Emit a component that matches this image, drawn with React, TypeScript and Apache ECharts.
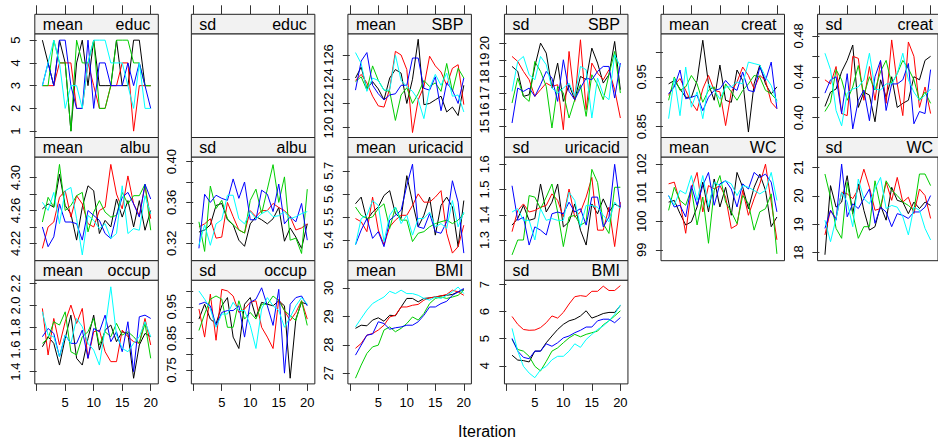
import React, { useEffect, useRef } from "react";
import * as echarts from "echarts";

const ITERATIONS = [1, 2, 3, 4, 5, 6, 7, 8, 9, 10, 11, 12, 13, 14, 15, 16, 17, 18, 19, 20];
const CHAIN_COLORS = ["#000000", "#FF0000", "#00CD00", "#0000FF", "#00FFFF"];
const X_TICKS = [0, 5, 10, 15, 20];
const X_LABELS = [5, 10, 15, 20];
const X_TITLE = "Iteration";

// each panel: five chains (black, red, green, blue, cyan), 20 iterations
const meanEduc = [
  [5, 4, 3, 5, 4, 1, 4, 5, 3, 5, 3, 3, 3, 5, 3, 3, 5, 5, 3, 3],
  [3, 3, 3, 4, 4, 4, 2, 2, 4, 3, 2, 2, 3, 3, 4, 4, 1, 3, 3, 3],
  [3, 3, 5, 4, 4, 1, 5, 4, 4, 5, 2, 2, 3, 5, 5, 5, 4, 4, 3, 3],
  [3, 4, 3, 5, 5, 3, 2, 2, 5, 2, 4, 4, 3, 3, 3, 4, 3, 4, 3, 2],
  [3, 4, 5, 4, 2, 3, 3, 2, 4, 5, 5, 5, 4, 4, 4, 3, 2, 4, 2, 2],
];
const sdEduc: number[][] = [];
const meanSBP = [
  [124.1, 125.0, 123.2, 123.8, 123.2, 122.3, 124.1, 124.8, 124.5, 122.0, 124.0, 127.3, 121.9, 122.0, 122.3, 122.6, 121.3, 121.7, 121.0, 123.5],
  [123.9, 124.4, 123.7, 122.6, 121.8, 121.7, 123.2, 126.3, 126.0, 124.8, 119.6, 122.3, 123.4, 125.9, 125.1, 124.6, 123.5, 124.9, 125.2, 121.9],
  [123.8, 124.2, 123.1, 125.1, 123.9, 123.1, 123.0, 120.6, 122.7, 123.3, 122.0, 122.8, 123.9, 123.4, 123.7, 123.0, 125.3, 123.0, 124.9, 124.1],
  [123.1, 125.5, 126.2, 123.5, 122.8, 122.3, 122.7, 122.8, 123.5, 123.5, 125.75, 125.75, 123.25, 123.1, 124.2, 121.4, 123.7, 123.1, 122.0, 124.1],
  [126.2, 125.3, 123.0, 124.1, 123.9, 123.1, 123.1, 126.0, 123.9, 123.4, 123.0, 122.3, 120.75, 123.25, 124.4, 123.5, 124.5, 122.6, 122.7, 121.3],
];
const sdSBP = [
  [18.6, 18.3, 16.8, 16.9, 18.6, 20.0, 19.4, 17.3, 18.8, 16.5, 17.5, 16.6, 18.0, 17.8, 19.7, 18.8, 17.6, 18.1, 20.1, 17.2],
  [19.2, 18.9, 18.3, 17.8, 16.8, 17.2, 17.6, 17.4, 17.5, 14.8, 19.5, 16.5, 20.2, 16.0, 18.8, 18.2, 17.8, 18.4, 17.2, 15.5],
  [16.4, 17.9, 16.8, 16.5, 18.9, 18.3, 17.4, 14.9, 17.4, 17.0, 15.5, 16.6, 17.5, 15.6, 18.1, 17.5, 16.6, 18.1, 19.5, 17.0],
  [15.2, 17.3, 17.1, 17.3, 16.8, 17.5, 18.3, 17.9, 16.5, 19.0, 17.1, 16.6, 17.3, 17.9, 17.8, 18.3, 18.6, 18.6, 16.7, 18.8],
  [17.1, 18.9, 19.2, 18.1, 17.8, 19.2, 18.7, 17.3, 17.0, 17.3, 17.6, 16.8, 18.6, 18.4, 15.5, 17.9, 16.9, 16.6, 19.3, 18.6],
];
const meanCreat = [
  [0.936, 0.943, 0.926, 0.909, 0.909, 0.943, 1.024, 0.936, 0.903, 0.974, 0.903, 0.899, 0.964, 0.943, 0.839, 0.936, 0.974, 0.936, 0.916, 0.930],
  [0.913, 0.933, 0.947, 0.923, 0.899, 0.882, 0.926, 0.953, 0.923, 0.920, 0.852, 0.920, 0.940, 0.970, 0.953, 0.926, 0.953, 0.943, 0.899, 0.886],
  [0.903, 0.950, 0.923, 0.930, 0.953, 0.936, 0.899, 0.923, 0.930, 0.889, 0.936, 0.920, 0.903, 0.923, 0.936, 0.953, 0.950, 0.923, 0.916, 0.903],
  [0.916, 0.930, 0.964, 0.906, 0.909, 0.913, 0.882, 0.909, 0.923, 0.926, 0.943, 0.930, 0.923, 0.960, 0.923, 0.920, 0.970, 0.943, 0.980, 0.886],
  [0.866, 0.947, 0.872, 0.970, 0.889, 0.920, 0.866, 0.936, 0.923, 0.906, 0.930, 0.930, 0.940, 0.936, 0.980, 0.977, 0.974, 0.950, 0.933, 0.899],
];
const sdCreat = [
  [0.411, 0.425, 0.428, 0.445, 0.456, 0.471, 0.410, 0.425, 0.422, 0.396, 0.437, 0.420, 0.440, 0.410, 0.414, 0.417, 0.440, 0.437, 0.456, 0.460],
  [0.437, 0.433, 0.450, 0.404, 0.402, 0.460, 0.458, 0.417, 0.450, 0.417, 0.455, 0.414, 0.476, 0.433, 0.402, 0.474, 0.460, 0.410, 0.430, 0.404],
  [0.406, 0.415, 0.447, 0.437, 0.417, 0.430, 0.451, 0.422, 0.440, 0.427, 0.445, 0.456, 0.433, 0.443, 0.456, 0.448, 0.437, 0.417, 0.425, 0.414],
  [0.424, 0.437, 0.440, 0.404, 0.443, 0.389, 0.417, 0.427, 0.397, 0.440, 0.456, 0.407, 0.433, 0.433, 0.437, 0.453, 0.394, 0.406, 0.404, 0.447],
  [0.463, 0.447, 0.407, 0.392, 0.424, 0.428, 0.430, 0.437, 0.463, 0.428, 0.427, 0.433, 0.433, 0.443, 0.463, 0.437, 0.425, 0.417, 0.422, 0.428],
];
const meanAlbu = [
  [4.262, 4.268, 4.264, 4.304, 4.266, 4.256, 4.224, 4.264, 4.290, 4.284, 4.232, 4.248, 4.240, 4.274, 4.252, 4.272, 4.240, 4.272, 4.236, 4.260],
  [4.214, 4.240, 4.246, 4.276, 4.284, 4.252, 4.278, 4.268, 4.244, 4.240, 4.260, 4.264, 4.316, 4.280, 4.262, 4.302, 4.268, 4.254, 4.290, 4.250],
  [4.246, 4.276, 4.264, 4.316, 4.260, 4.266, 4.278, 4.282, 4.234, 4.258, 4.272, 4.258, 4.252, 4.254, 4.282, 4.268, 4.278, 4.278, 4.292, 4.236],
  [4.240, 4.216, 4.228, 4.268, 4.246, 4.246, 4.244, 4.224, 4.260, 4.254, 4.248, 4.232, 4.226, 4.254, 4.276, 4.282, 4.268, 4.252, 4.292, 4.274],
  [4.270, 4.260, 4.282, 4.244, 4.284, 4.288, 4.250, 4.206, 4.254, 4.248, 4.238, 4.244, 4.226, 4.232, 4.290, 4.232, 4.238, 4.236, 4.278, 4.256],
];
const sdAlbu = [
  [0.331, 0.333, 0.338, 0.357, 0.359, 0.343, 0.338, 0.323, 0.317, 0.339, 0.346, 0.343, 0.339, 0.344, 0.355, 0.322, 0.335, 0.326, 0.315, 0.339],
  [0.336, 0.339, 0.344, 0.325, 0.326, 0.360, 0.346, 0.333, 0.330, 0.352, 0.346, 0.352, 0.352, 0.359, 0.355, 0.352, 0.346, 0.333, 0.335, 0.339],
  [0.341, 0.312, 0.376, 0.354, 0.362, 0.344, 0.338, 0.333, 0.330, 0.362, 0.373, 0.349, 0.373, 0.397, 0.360, 0.385, 0.323, 0.325, 0.310, 0.373],
  [0.315, 0.368, 0.360, 0.367, 0.364, 0.362, 0.383, 0.364, 0.380, 0.343, 0.343, 0.372, 0.368, 0.351, 0.378, 0.339, 0.346, 0.341, 0.359, 0.323],
  [0.318, 0.338, 0.318, 0.339, 0.343, 0.367, 0.367, 0.344, 0.339, 0.351, 0.344, 0.349, 0.352, 0.346, 0.347, 0.351, 0.344, 0.346, 0.349, 0.351],
];
const meanUricacid = [
  [5.557, 5.586, 5.486, 5.521, 5.543, 5.593, 5.614, 5.514, 5.493, 5.679, 5.564, 5.457, 5.507, 5.586, 5.421, 5.550, 5.586, 5.543, 5.371, 5.571],
  [5.493, 5.479, 5.436, 5.586, 5.443, 5.379, 5.457, 5.486, 5.507, 5.507, 5.550, 5.600, 5.564, 5.564, 5.586, 5.614, 5.429, 5.343, 5.371, 5.464],
  [5.543, 5.507, 5.493, 5.500, 5.536, 5.557, 5.450, 5.543, 5.486, 5.486, 5.393, 5.429, 5.436, 5.457, 5.471, 5.479, 5.486, 5.471, 5.486, 5.514],
  [5.379, 5.443, 5.493, 5.407, 5.436, 5.371, 5.486, 5.507, 5.529, 5.636, 5.729, 5.457, 5.450, 5.514, 5.436, 5.429, 5.479, 5.657, 5.564, 5.343],
  [5.379, 5.493, 5.507, 5.571, 5.550, 5.393, 5.507, 5.543, 5.471, 5.507, 5.421, 5.493, 5.493, 5.521, 5.457, 5.471, 5.450, 5.571, 5.457, 5.521],
];
const sdUricacid = [
  [1.359, 1.385, 1.437, 1.378, 1.385, 1.522, 1.411, 1.450, 1.522, 1.352, 1.372, 1.443, 1.339, 1.280, 1.443, 1.404, 1.463, 1.411, 1.443, 1.430],
  [1.333, 1.417, 1.443, 1.411, 1.417, 1.430, 1.437, 1.483, 1.457, 1.391, 1.502, 1.391, 1.411, 1.470, 1.548, 1.339, 1.339, 1.430, 1.274, 1.450],
  [1.241, 1.300, 1.300, 1.476, 1.470, 1.424, 1.470, 1.522, 1.411, 1.274, 1.391, 1.398, 1.359, 1.372, 1.580, 1.528, 1.365, 1.326, 1.509, 1.509],
  [1.515, 1.378, 1.391, 1.280, 1.352, 1.339, 1.320, 1.404, 1.411, 1.404, 1.450, 1.411, 1.424, 1.359, 1.470, 1.470, 1.352, 1.391, 1.600, 1.430],
  [1.411, 1.424, 1.378, 1.378, 1.300, 1.424, 1.378, 1.385, 1.378, 1.378, 1.489, 1.457, 1.352, 1.437, 1.437, 1.430, 1.398, 1.372, 1.450, 1.424],
];
const meanWC = [
  [100.67, 100.73, 100.27, 99.87, 99.98, 100.5, 101.37, 100.33, 101.48, 100.5, 101.19, 100.21, 101.71, 101.19, 100.44, 101.19, 101.65, 101.08, 99.81, 100.15],
  [101.31, 101.37, 100.67, 99.58, 101.13, 101.71, 100.33, 101.25, 101.13, 101.25, 100.85, 99.75, 99.87, 101.08, 100.21, 100.79, 101.31, 102.0, 100.67, 99.35],
  [100.38, 101.19, 100.73, 100.56, 101.13, 99.87, 100.85, 99.23, 101.08, 101.6, 100.67, 100.33, 99.92, 100.9, 100.62, 99.69, 100.33, 100.44, 100.96, 98.86],
  [100.9, 100.5, 100.56, 100.15, 101.25, 100.56, 101.25, 101.71, 100.56, 101.31, 101.42, 101.13, 100.5, 101.31, 101.13, 101.71, 101.54, 101.65, 101.37, 100.33],
  [100.9, 100.56, 101.08, 100.96, 101.6, 100.73, 101.6, 100.5, 101.37, 101.25, 101.42, 101.31, 100.9, 101.25, 101.19, 101.08, 100.96, 101.08, 101.71, 100.73],
];
const sdWC = [
  [17.92, 20.36, 19.6, 19.78, 20.71, 19.37, 20.42, 19.49, 18.79, 18.91, 19.66, 19.14, 20.3, 19.84, 19.78, 19.37, 19.78, 19.55, 19.78, 19.66],
  [18.62, 19.49, 19.2, 20.13, 20.07, 19.9, 20.24, 20.94, 20.3, 19.49, 19.55, 20.48, 19.84, 20.65, 19.78, 19.95, 19.37, 20.24, 20.01, 19.2],
  [20.77, 19.95, 18.85, 18.5, 20.48, 19.37, 18.5, 18.91, 18.91, 20.53, 19.6, 20.53, 20.19, 20.01, 19.78, 19.66, 19.49, 20.77, 20.77, 20.36],
  [18.85, 19.49, 19.14, 21.12, 19.26, 19.72, 19.55, 19.9, 20.24, 19.03, 19.6, 19.43, 18.91, 19.37, 19.31, 19.2, 19.43, 19.43, 19.6, 20.01],
  [19.14, 18.38, 19.2, 20.13, 19.78, 18.91, 20.59, 19.9, 19.72, 20.24, 20.65, 19.55, 19.66, 19.6, 19.26, 18.62, 19.6, 19.49, 18.85, 18.44],
];
const meanOccup = [
  [1.626, 1.717, 1.657, 1.46, 1.702, 1.913, 1.521, 1.46, 1.702, 1.913, 1.596, 1.777, 1.823, 1.672, 1.762, 1.747, 1.34, 1.642, 1.747, 1.717],
  [1.974, 1.551, 1.883, 1.642, 1.853, 2.004, 1.838, 1.974, 1.521, 1.762, 1.777, 1.581, 1.491, 1.491, 1.777, 1.717, 1.672, 1.657, 1.883, 1.642],
  [1.657, 1.702, 1.853, 1.823, 1.943, 1.581, 1.551, 1.717, 1.762, 1.883, 1.642, 1.762, 1.717, 1.838, 1.732, 1.762, 1.717, 1.657, 1.838, 1.521],
  [1.717, 1.792, 1.747, 1.536, 1.732, 1.657, 1.657, 1.777, 1.521, 1.792, 1.762, 1.913, 1.672, 1.762, 1.581, 1.853, 1.4, 1.898, 1.913, 1.883],
  [1.943, 1.732, 1.717, 1.536, 1.732, 1.657, 1.883, 1.808, 1.657, 1.596, 1.46, 1.792, 2.17, 1.732, 1.611, 1.581, 1.657, 1.717, 1.853, 1.717],
];
const sdOccup = [
  [0.911, 0.958, 0.911, 0.896, 0.953, 0.979, 0.854, 0.818, 0.958, 0.979, 0.917, 0.964, 0.958, 0.953, 0.969, 0.953, 0.724, 0.911, 0.964, 0.958],
  [0.943, 0.854, 0.990, 0.844, 1.005, 1.000, 0.984, 0.932, 0.943, 0.964, 0.969, 0.885, 0.854, 0.818, 0.974, 0.938, 0.906, 0.932, 0.969, 0.911],
  [0.875, 0.927, 0.974, 0.984, 0.974, 0.885, 0.885, 0.969, 0.911, 0.932, 0.911, 0.958, 0.958, 0.984, 0.969, 0.938, 0.922, 0.906, 0.969, 0.891],
  [0.958, 0.964, 0.953, 0.891, 0.932, 0.938, 0.938, 0.953, 0.854, 0.964, 0.974, 1.010, 0.953, 0.891, 1.005, 0.740, 0.958, 0.979, 0.984, 0.953],
  [1.000, 0.974, 0.943, 0.885, 0.927, 0.927, 0.964, 0.938, 0.938, 0.891, 0.818, 0.943, 0.979, 0.953, 0.938, 0.885, 0.917, 0.953, 0.979, 0.958],
];
const meanBMI = [
  [28.58, 28.69, 28.67, 28.87, 28.95, 28.83, 29.04, 29.02, 29.33, 29.63, 29.63, 29.51, 29.63, 29.65, 29.68, 29.72, 29.74, 29.77, 29.86, 29.94],
  [27.88, 28.05, 28.34, 28.4, 28.52, 28.69, 28.98, 29.04, 29.33, 29.33, 29.39, 29.42, 29.57, 29.65, 29.68, 29.72, 29.77, 29.92, 29.86, 29.74],
  [26.83, 27.29, 27.7, 27.93, 27.99, 28.52, 28.63, 28.46, 28.58, 28.75, 28.98, 28.87, 29.1, 29.45, 29.63, 29.68, 29.63, 29.68, 29.74, 29.92],
  [27.64, 27.99, 28.34, 28.38, 28.81, 28.75, 28.55, 28.6, 28.63, 28.69, 28.69, 28.81, 29.04, 29.33, 29.33, 29.45, 29.53, 29.74, 29.86, 29.98],
  [28.63, 28.93, 29.22, 29.45, 29.57, 29.68, 29.88, 29.8, 29.92, 29.8, 29.8, 29.74, 29.63, 29.57, 29.68, 29.63, 29.74, 29.86, 30.03, 29.8],
];
const sdBMI = [
  [4.39, 4.21, 4.19, 4.14, 4.54, 4.54, 4.85, 5.1, 5.34, 5.53, 5.66, 5.72, 5.84, 6.03, 5.76, 5.84, 5.93, 5.97, 5.97, 6.22],
  [5.82, 5.53, 5.34, 5.31, 5.32, 5.41, 5.59, 5.84, 5.76, 5.97, 6.28, 6.55, 6.59, 6.56, 6.75, 6.75, 6.94, 6.78, 6.78, 6.96],
  [4.97, 4.6, 4.54, 4.35, 3.98, 3.81, 4.16, 4.54, 4.66, 4.85, 5.03, 5.16, 5.07, 5.16, 5.22, 5.28, 5.51, 5.66, 5.84, 6.03],
  [5.01, 4.54, 4.31, 4.26, 4.54, 4.54, 4.81, 4.72, 4.85, 5.03, 5.1, 5.22, 5.31, 5.43, 5.43, 5.66, 5.72, 5.72, 5.59, 5.78],
  [5.38, 4.54, 3.98, 3.73, 3.56, 3.85, 3.98, 4.22, 4.35, 4.35, 4.54, 4.81, 4.68, 4.97, 5.16, 5.34, 5.47, 5.66, 5.9, 6.25],
];

// tick values per panel
const TICKS_EDUC = [1, 2, 3, 4, 5];
const TICKS_SBP_MEAN = [120, 122, 124, 126];
const TICKS_SBP_SD = [15, 16, 17, 18, 19, 20];
const TICKS_CREAT_MEAN = [0.85, 0.9, 0.95, 1.0];
const LABELS_CREAT_MEAN = [0.85, 0.95];
const TICKS_CREAT_SD = [0.4, 0.42, 0.44, 0.46, 0.48];
const LABELS_CREAT_SD = [0.4, 0.44, 0.48];
const TICKS_ALBU_MEAN = [4.22, 4.24, 4.26, 4.28, 4.3];
const LABELS_ALBU_MEAN = [4.22, 4.26, 4.3];
const TICKS_ALBU_SD = [0.32, 0.34, 0.36, 0.38, 0.4];
const LABELS_ALBU_SD = [0.32, 0.36, 0.4];
const TICKS_URIC_MEAN = [5.4, 5.5, 5.6, 5.7];
const TICKS_URIC_SD = [1.3, 1.4, 1.5, 1.6];
const TICKS_WC_MEAN = [99, 100, 101, 102];
const TICKS_WC_SD = [18, 19, 20, 21];
const TICKS_OCCUP_MEAN = [1.4, 1.6, 1.8, 2.0, 2.2];
const TICKS_OCCUP_SD = [0.75, 0.8, 0.85, 0.9, 0.95, 1.0];
const LABELS_OCCUP_SD = [0.75, 0.85, 0.95];
const TICKS_BMI_MEAN = [27, 28, 29, 30];
const TICKS_BMI_SD = [4, 5, 6, 7];

type Panel = {
  stat: string;
  name: string;
  data: number[][];
  range: [number, number];
  ticks: number[];
  labels: number[];
  digits: number;
};

const PANELS: Panel[] = [
  { stat: "mean", name: "educ", data: meanEduc, range: [0.72, 5.28], ticks: TICKS_EDUC, labels: TICKS_EDUC, digits: 0 },
  { stat: "sd", name: "educ", data: sdEduc, range: [0, 1], ticks: [], labels: [], digits: 0 },
  { stat: "mean", name: "SBP", data: meanSBP, range: [119.19, 127.75], ticks: TICKS_SBP_MEAN, labels: TICKS_SBP_MEAN, digits: 0 },
  { stat: "sd", name: "SBP", data: sdSBP, range: [14.33, 20.56], ticks: TICKS_SBP_SD, labels: TICKS_SBP_SD, digits: 0 },
  { stat: "mean", name: "creat", data: meanCreat, range: [0.828, 1.037], ticks: TICKS_CREAT_MEAN, labels: LABELS_CREAT_MEAN, digits: 2 },
  { stat: "sd", name: "creat", data: sdCreat, range: [0.3806, 0.482], ticks: TICKS_CREAT_SD, labels: LABELS_CREAT_SD, digits: 2 },
  { stat: "mean", name: "albu", data: meanAlbu, range: [4.199, 4.325], ticks: TICKS_ALBU_MEAN, labels: LABELS_ALBU_MEAN, digits: 2 },
  { stat: "sd", name: "albu", data: sdAlbu, range: [0.3029, 0.4045], ticks: TICKS_ALBU_SD, labels: LABELS_ALBU_SD, digits: 2 },
  { stat: "mean", name: "uricacid", data: meanUricacid, range: [5.31, 5.76], ticks: TICKS_URIC_MEAN, labels: TICKS_URIC_MEAN, digits: 1 },
  { stat: "sd", name: "uricacid", data: sdUricacid, range: [1.218, 1.629], ticks: TICKS_URIC_SD, labels: TICKS_URIC_SD, digits: 1 },
  { stat: "mean", name: "WC", data: meanWC, range: [98.62, 102.25], ticks: TICKS_WC_MEAN, labels: TICKS_WC_MEAN, digits: 0 },
  { stat: "sd", name: "WC", data: sdWC, range: [17.71, 21.37], ticks: TICKS_WC_SD, labels: TICKS_WC_SD, digits: 0 },
  { stat: "mean", name: "occup", data: meanOccup, range: [1.289, 2.23], ticks: TICKS_OCCUP_MEAN, labels: TICKS_OCCUP_MEAN, digits: 1 },
  { stat: "sd", name: "occup", data: sdOccup, range: [0.706, 1.034], ticks: TICKS_OCCUP_SD, labels: LABELS_OCCUP_SD, digits: 2 },
  { stat: "mean", name: "BMI", data: meanBMI, range: [26.63, 30.27], ticks: TICKS_BMI_MEAN, labels: TICKS_BMI_MEAN, digits: 0 },
  { stat: "sd", name: "BMI", data: sdBMI, range: [3.33, 7.16], ticks: TICKS_BMI_SD, labels: TICKS_BMI_SD, digits: 0 },
];

// layout
const FONT = "'Liberation Sans', Arial, Helvetica, sans-serif";
const COLS = 6;
const COL_LEFT0 = 34.8;
const COL_STEP = 156.55;
const PANEL_W = 123.5;
const ROW_TOP0 = 14.3;
const ROW_STEP = 123.2;
const STRIP_H = 19.5;
const FRAME = "#222222";
const TICK_COLOR = "#333333";
const STRIP_FILL = "#F2F2F2";
const X_MIN = -0.33;
const X_MAX = 21.33;

function buildOption() {
  const grid: any[] = [];
  const xAxis: any[] = [];
  const yAxis: any[] = [];
  const series: any[] = [];
  const graphic: any[] = [];
  const topAxes: any[] = [];

  PANELS.forEach((p, i) => {
    const row = Math.floor(i / COLS);
    const col = i % COLS;
    const left = COL_LEFT0 + col * COL_STEP;
    const top = ROW_TOP0 + row * ROW_STEP;
    const isBottom = row === 2;
    const hasData = p.data.length > 0;

    grid.push({
      left,
      top: top + STRIP_H,
      width: PANEL_W,
      height: ROW_STEP - STRIP_H,
      show: true,
      borderColor: FRAME,
      borderWidth: 1,
      backgroundColor: "transparent",
      containLabel: false,
    });

    xAxis.push({
      gridIndex: i,
      type: "value",
      min: X_MIN,
      max: X_MAX,
      position: "bottom",
      show: isBottom,
      axisLine: { show: false },
      axisTick: { show: true, customValues: X_TICKS, length: 7, lineStyle: { color: TICK_COLOR, width: 1 } },
      axisLabel: { show: true, customValues: X_LABELS, fontSize: 13, color: "#000", margin: 12, fontFamily: FONT },
      splitLine: { show: false },
    });

    if (row === 0) {
      topAxes.push({
        gridIndex: i,
        type: "value",
        min: X_MIN,
        max: X_MAX,
        position: "top",
        offset: STRIP_H,
        show: true,
        axisLine: { show: false },
        axisTick: { show: true, customValues: X_TICKS, length: 9, lineStyle: { color: TICK_COLOR, width: 1 } },
        axisLabel: { show: false },
        splitLine: { show: false },
      });
    }

    yAxis.push({
      gridIndex: i,
      type: "value",
      min: p.range[0],
      max: p.range[1],
      show: hasData,
      axisLine: { show: false },
      axisTick: { show: true, customValues: p.ticks, length: 7, lineStyle: { color: TICK_COLOR, width: 1 } },
      axisLabel: {
        show: true,
        customValues: p.labels,
        rotate: 90,
        fontSize: 13,
        color: "#000",
        margin: 13,
        fontFamily: FONT,
        formatter: (v: number) => Number(v).toFixed(p.digits),
      },
      splitLine: { show: false },
    });

    p.data.forEach((chain, k) => {
      series.push({
        type: "line",
        name: `${p.stat} ${p.name} ${k + 1}`,
        xAxisIndex: i,
        yAxisIndex: i,
        data: ITERATIONS.map((it, j) => [it, chain[j]]),
        showSymbol: false,
        symbol: "none",
        silent: true,
        lineStyle: { width: 1, color: CHAIN_COLORS[k] },
        itemStyle: { color: CHAIN_COLORS[k] },
        z: 2 + k,
      });
    });

    graphic.push({
      type: "rect",
      shape: { x: left, y: top, width: PANEL_W, height: STRIP_H },
      style: { fill: STRIP_FILL, stroke: FRAME, lineWidth: 1 },
      silent: true,
      z: 1,
    });
    graphic.push({
      type: "text",
      x: left + 8,
      y: top + STRIP_H / 2 + 0.5,
      style: {
        text: p.stat,
        fontSize: 16,
        fontFamily: FONT,
        fill: "#000",
        textAlign: "left",
        textVerticalAlign: "middle",
        align: "left",
        verticalAlign: "middle",
      },
      silent: true,
      z: 2,
    });
    graphic.push({
      type: "text",
      x: left + PANEL_W - 8,
      y: top + STRIP_H / 2 + 0.5,
      style: {
        text: p.name,
        fontSize: 16,
        fontFamily: FONT,
        fill: "#000",
        textAlign: "right",
        textVerticalAlign: "middle",
        align: "right",
        verticalAlign: "middle",
      },
      silent: true,
      z: 2,
    });
  });

  graphic.push({
    type: "text",
    x: 487,
    y: 431,
    style: {
      text: X_TITLE,
      fontSize: 16,
      fontFamily: FONT,
      fill: "#000",
      textAlign: "center",
      textVerticalAlign: "middle",
      align: "center",
      verticalAlign: "middle",
    },
    silent: true,
  });

  return {
    animation: false,
    backgroundColor: "#ffffff",
    textStyle: { fontFamily: FONT },
    grid,
    xAxis: [...xAxis, ...topAxes],
    yAxis,
    series,
    graphic,
  };
}

export default function App() {
  const ref = useRef<HTMLDivElement>(null);
  useEffect(() => {
    if (!ref.current) return;
    const chart = echarts.init(ref.current, undefined, { renderer: "svg" });
    chart.setOption(buildOption() as any);
    return () => {
      chart.dispose();
    };
  }, []);
  return (
    <div
      ref={ref}
      style={{ position: "fixed", left: 0, top: 0, width: 938, height: 438, background: "#fff" }}
    />
  );
}
